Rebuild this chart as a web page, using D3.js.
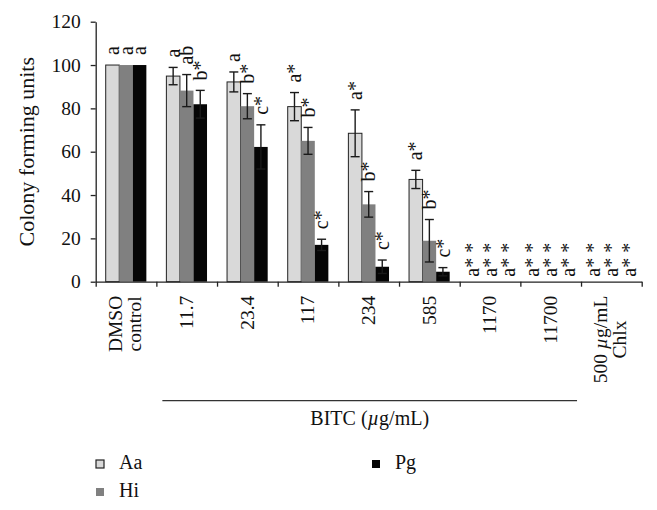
<!DOCTYPE html>
<html>
<head>
<meta charset="utf-8">
<script src="https://cdn.jsdelivr.net/npm/d3@7"></script>
<style>
  body { margin: 0; background: #fff; }
  text { font-family: "Liberation Serif", "Times New Roman", serif; fill: #111; }
</style>
</head>
<body>
<script>
// CHART DATA
var categories = ["DMSO control", "11.7", "23.4", "117", "234", "585", "1170", "11700", "500 µg/mL Chlx"];
var categoryLines = [["DMSO", "control"], ["11.7"], ["23.4"], ["117"], ["234"], ["585"], ["1170"], ["11700"], ["500 µg/mL", "Chlx"]];
var seriesNames = ["Aa", "Hi", "Pg"];
var aaValues = [100, 94.9, 92.2, 80.8, 68.5, 47.2, 0, 0, 0];
var aaErrors = [0, 4.0, 4.6, 6.5, 10.8, 4.2, 0, 0, 0];
var hiValues = [100, 88.2, 81.0, 65.0, 35.7, 18.9, 0, 0, 0];
var hiErrors = [0, 7.4, 5.8, 6.2, 5.9, 9.8, 0, 0, 0];
var pgValues = [100, 81.9, 62.2, 17.0, 6.9, 4.6, 0, 0, 0];
var pgErrors = [0, 6.4, 10.2, 2.6, 3.1, 1.9, 0, 0, 0];
var aaLabels = ["a", "a", "a", "a*", "a*", "a*", "a* *", "a* *", "a* *"];
var hiLabels = ["a", "ab", "b*", "b*", "b*", "b*", "a* *", "a* *", "a* *"];
var pgLabels = ["a", "b*", "c*", "c*", "c*", "c*", "a* *", "a* *", "a* *"];
var yTicks = [0, 20, 40, 60, 80, 100, 120];

var colors = {Aa: "#d9d9d9", Hi: "#808080", Pg: "#050505"};

// MARGINS AND SIZE
var margin = {top: 21.7, left: 95.7};
var width = 546;
var height = 260;

var svg = d3.select("body").append("svg")
    .attr("width", 657)
    .attr("height", 510);

var g = svg.append("g")
    .attr("transform", `translate(${margin.left}, ${margin.top})`);

// BUILD ROWS FROM THE ARRAYS
var rows = [];
categories.forEach((c, i) => {
    rows.push({cat: c, i: i, series: "Aa", value: aaValues[i], err: aaErrors[i], label: aaLabels[i]});
    rows.push({cat: c, i: i, series: "Hi", value: hiValues[i], err: hiErrors[i], label: hiLabels[i]});
    rows.push({cat: c, i: i, series: "Pg", value: pgValues[i], err: pgErrors[i], label: pgLabels[i]});
});

// SCALES
var x0 = d3.scaleBand()
    .domain(categories)
    .range([0, width])
    .paddingInner(0.33)
    .paddingOuter(0.165);

var x1 = d3.scaleBand()
    .domain(seriesNames)
    .range([0, x0.bandwidth()]);

var y = d3.scaleLinear()
    .domain([0, 120])
    .range([height, 0]);

// boundaries between categories for the x ticks
var xb = d3.scaleLinear()
    .domain([0, categories.length])
    .range([0, width]);

// BARS
g.selectAll("rect.bar")
    .data(rows)
    .enter()
    .append("rect")
    .attr("class", "bar")
    .attr("x", d => x0(d.cat) + x1(d.series))
    .attr("y", d => y(d.value))
    .attr("width", x1.bandwidth())
    .attr("height", d => height - y(d.value))
    .attr("fill", d => colors[d.series])
    .attr("stroke", d => d.series == "Aa" ? "#222" : "none")
    .attr("stroke-width", 1);

// ERROR BARS
var eb = g.selectAll("g.err")
    .data(rows.filter(d => d.err > 0))
    .enter()
    .append("g")
    .attr("class", "err")
    .attr("stroke", "#1a1a1a")
    .attr("stroke-width", 1.4);

eb.append("line")
    .attr("x1", d => x0(d.cat) + x1(d.series) + x1.bandwidth() / 2)
    .attr("x2", d => x0(d.cat) + x1(d.series) + x1.bandwidth() / 2)
    .attr("y1", d => y(d.value + d.err))
    .attr("y2", d => y(d.value - d.err));

[1, -1].forEach(s => {
    eb.append("line")
        .attr("x1", d => x0(d.cat) + x1(d.series) + x1.bandwidth() / 2 - 4.5)
        .attr("x2", d => x0(d.cat) + x1(d.series) + x1.bandwidth() / 2 + 4.5)
        .attr("y1", d => y(d.value + s * d.err))
        .attr("y2", d => y(d.value + s * d.err));
});

// SIGNIFICANCE LETTERS (ROTATED)
g.selectAll("text.sig")
    .data(rows)
    .enter()
    .append("text")
    .attr("class", "sig")
    .attr("transform", d => {
        var cx = x0(d.cat) + x1(d.series) + x1.bandwidth() / 2;
        var off = 0;
        if (d.value == 0) off = (seriesNames.indexOf(d.series) - 1) * 4.5;
        var ty = d.value > 0 ? y(d.value + d.err) - 10 : y(0) - 5;
        return `translate(${cx + off}, ${ty}) rotate(-90)`;
    })
    .attr("dy", "0.33em")
    .attr("text-anchor", "start")
    .style("font-size", "20px")
    .text(d => d.label);

// Y AXIS
var yAxis = d3.axisLeft(y)
    .tickValues(yTicks)
    .tickSize(5)
    .tickSizeOuter(0)
    .tickPadding(10);

var ya = g.append("g").call(yAxis);
ya.selectAll("text").style("font-size", "19.5px").attr("fill", "#111");
ya.selectAll("line, path").attr("stroke", "#222").attr("stroke-width", 1.3);

// X AXIS (TICKS BETWEEN CATEGORIES)
var xAxis = d3.axisBottom(xb)
    .tickValues(d3.range(categories.length + 1))
    .tickFormat("")
    .tickSize(5)
    .tickSizeOuter(0);

var xa = g.append("g")
    .attr("transform", `translate(0, ${height})`)
    .call(xAxis);
xa.selectAll("line, path").attr("stroke", "#222").attr("stroke-width", 1.3);

// X CATEGORY LABELS (ROTATED)
categories.forEach((c, i) => {
    var lines = categoryLines[i];
    var cx = x0(c) + x0.bandwidth() / 2;
    var t = g.append("text")
        .attr("transform", `translate(${cx}, ${height + 14}) rotate(-90)`)
        .style("font-size", "19.5px");
    if (lines.length == 1) {
        t.attr("text-anchor", "end")
            .attr("dy", "0.33em")
            .text(lines[0]);
    } else {
        // two lines, centred on each other, block hangs from the axis
        var tmp = [];
        lines.forEach((ln, k) => {
            var ts = t.append("tspan")
                .attr("x", 0)
                .attr("y", k == 0 ? -4 : 15);
            var parts = ln.split("µ");
            ts.append("tspan").text(parts[0]);
            if (parts.length > 1) {
                ts.append("tspan").style("font-style", "italic").text("µ");
                ts.append("tspan").text(parts[1]);
            }
            tmp.push(ts);
        });
        var maxLen = d3.max(tmp, ts => ts.node().getComputedTextLength());
        t.attr("text-anchor", "middle");
        tmp.forEach(ts => ts.attr("x", -maxLen / 2));
    }
});

// BRACKET UNDER THE BITC CONCENTRATIONS
var bx1 = xb(1) + 6;
var bx2 = xb(8) - 4;
g.append("line")
    .attr("x1", bx1)
    .attr("x2", bx2)
    .attr("y1", height + 119)
    .attr("y2", height + 119)
    .attr("stroke", "#333")
    .attr("stroke-width", 1.3);

var bitc = g.append("text")
    .attr("x", (bx1 + bx2) / 2)
    .attr("y", height + 143.5)
    .attr("text-anchor", "middle")
    .style("font-size", "20px");
bitc.append("tspan").text("BITC (");
bitc.append("tspan").style("font-style", "italic").text("µ");
bitc.append("tspan").text("g/mL)");

// Y AXIS LABEL
svg.append("text")
    .attr("transform", `translate(33.5, ${margin.top + height / 2}) rotate(-90)`)
    .attr("text-anchor", "middle")
    .style("font-size", "22px")
    .text("Colony forming units");

// LEGEND
var legendPos = [{x: 96, y: 460}, {x: 96, y: 488}, {x: 372, y: 460}];
var lg = svg.selectAll("g.legend")
    .data(seriesNames)
    .enter()
    .append("g")
    .attr("class", "legend")
    .attr("transform", (d, i) => `translate(${legendPos[i].x}, ${legendPos[i].y})`);

lg.append("rect")
    .attr("width", 8)
    .attr("height", 8)
    .attr("fill", d => colors[d])
    .attr("stroke", d => d == "Aa" ? "#222" : "none")
    .attr("stroke-width", 1.2);

lg.append("text")
    .attr("x", 23)
    .attr("y", 9)
    .style("font-size", "20px")
    .text(d => d);
</script>
</body>
</html>
